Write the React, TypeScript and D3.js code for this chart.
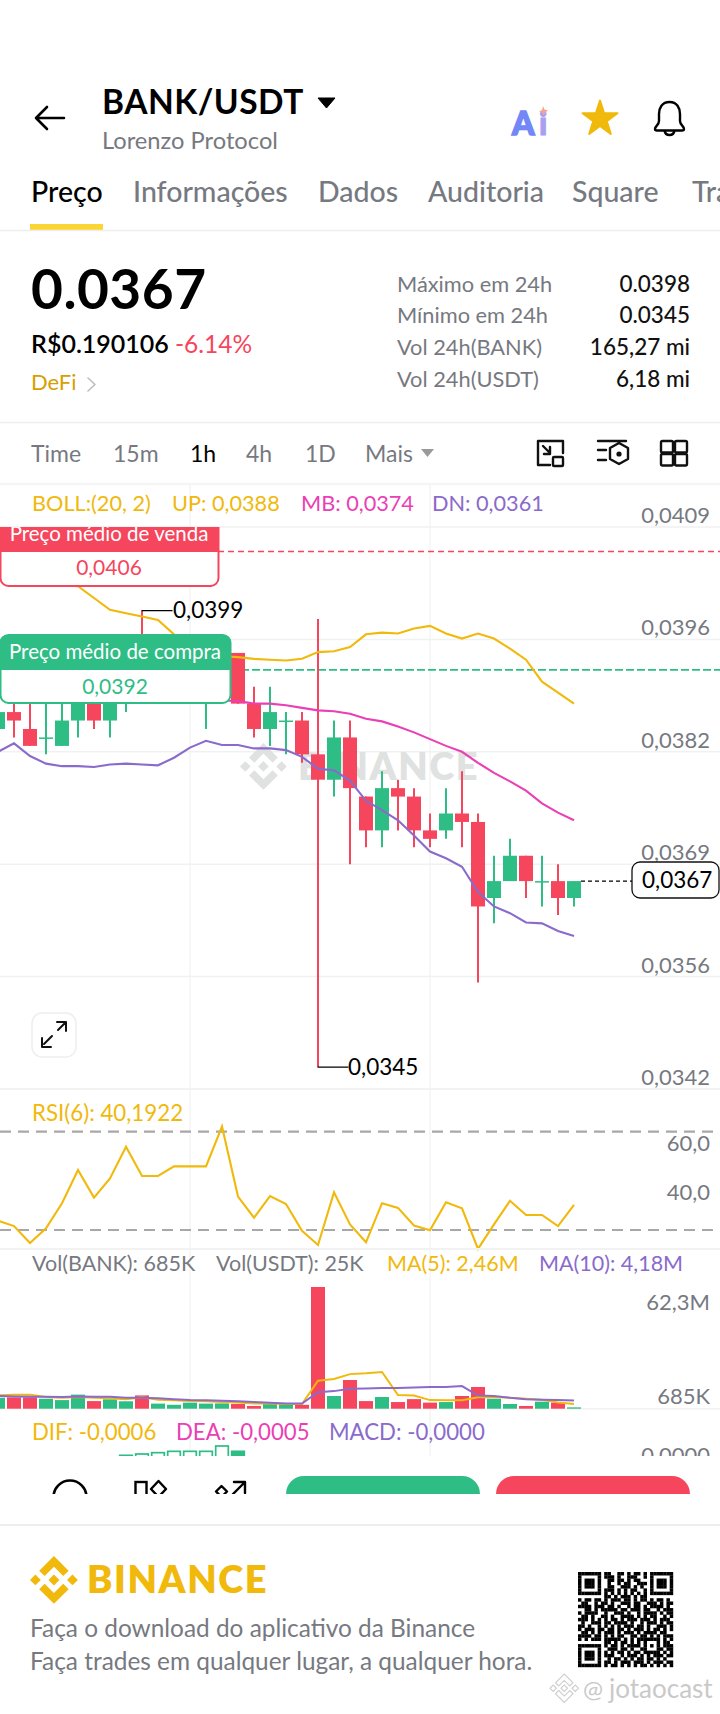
import React, { useEffect, useRef } from 'react';
import * as d3 from 'd3';

const FONT = 'Lato, sans-serif';
const RED = '#f6465d';
const GREEN = '#2ebd85';
const YELLOW = '#f0b90b';
const PINK = '#ea3fb5';
const PURPLE = '#8a6bcb';
const GRAY = '#76797f';

// one entry per hourly candle, oldest first
const opens = [.0385, .0387, .0385, .0384, .0383, .0386, .0388, .0386, .0388, .0392, .0389, .0390, .0391, .0390, .0392, .0394, .0388, .0385, .0386, .0386, .0382, .0379, .0384, .0377, .0373, .0378, .0377, .0373, .0373, .0375, .0374, .0365, .0367, .0370, .0367, .0367, .0365];
const closes = [.0387, .0386, .0383, .0384, .0386, .0388, .0386, .0388, .0392, .0389, .0390, .0391, .0392, .0392, .0394, .0388, .0385, .0387, .0386, .0382, .0379, .0384, .0378, .0373, .0378, .0377, .0373, .0372, .0375, .0374, .0364, .0367, .0370, .0367, .0367, .0365, .0367];
const highs = [.0388, .0388, .0388, .0388, .0388, .0388, .0388, .0388, .0392, .0399, .0391, .0392, .0393, .0393, .0395, .0394, .0390, .0390, .0387, .0387, .0398, .0386, .0386, .0377, .0380, .0379, .0378, .0375, .0378, .0380, .0375, .0370, .0372, .0370, .0370, .0369, .0367];
const lows = [.0384, .0384, .0383, .0382, .0383, .0384, .0385, .0384, .0387, .0388, .0389, .0389, .0390, .0385, .0391, .0388, .0384, .0383, .0382, .0381, .0345, .0377, .0369, .0371, .0371, .0373, .0371, .0371, .0372, .0371, .0355, .0362, .0367, .0365, .0364, .0363, .0364];
const bollUp = [.0406, .0405, .0404, .0403, .0402, .04019, .04005, .03991, .03987, .03983, .03979, .03962, .0395, .0394, .03936, .03935, .03933, .03932, .03931, .03933, .03941, .03942, .03947, .03962, .03964, .03963, .03969, .03972, .03963, .03957, .03963, .03957, .03945, .03932, .03906, .03893, .0388];
const bollMb = [.0391, .03905, .0390, .03895, .0390, .0390, .03895, .0389, .0389, .0389, .03895, .0389, .03885, .03885, .03884, .03883, .0388, .0388, .03878, .03875, .03872, .03871, .03868, .03862, .03859, .03853, .03846, .03838, .0383, .03823, .0381, .03798, .03788, .03777, .03762, .03751, .03742];
const bollDn = [.03823, .03833, .03818, .03809, .03806, .03806, .03805, .03808, .03809, .03808, .03807, .03816, .03828, .03836, .03831, .03831, .03827, .03827, .03825, .03817, .03803, .03801, .03789, .03765, .03754, .03742, .03724, .03705, .03697, .03687, .03657, .0364, .03632, .03621, .0362, .03611, .03605];
const rsi6 = [33.8, 31.6, 24.7, 30.7, 40.9, 54.4, 43.2, 51, 63.9, 52, 52, 55.9, 55.9, 55.9, 72.1, 43.6, 35, 43.8, 40.6, 29.7, 23.9, 45.3, 32.3, 25, 40.9, 39, 31.8, 29.9, 41.3, 38.8, 22.3, 32.3, 41.9, 36.1, 36.1, 31.6, 40.19];
const volumes = [5.6, 5.8, 5.8, 5.1, 4.4, 7.2, 3.9, 4.8, 3.8, 6.8, 2.6, 2, 3.1, 2.6, 2.7, 2.4, 1.4, 2.4, 2.4, 2, 62.3, 6.5, 14.7, 3.9, 6, 3.4, 4.9, 3.1, 3.4, 6.5, 11.1, 5.1, 2.4, 1.4, 3.6, 3.1, .685];
const volMa5 = [6.8, 7.2, 7.2, 6, 5.6, 6, 5.6, 5.3, 4.9, 5.8, 4.6, 4.3, 3.9, 3.8, 3.4, 3.2, 2.7, 2.6, 2.4, 2.4, 14.3, 15.2, 17.7, 18.1, 18.8, 7, 6.7, 4.4, 4.3, 4.3, 5.8, 6, 5.6, 5.1, 4.6, 3.2, 2.46];
const volMa10 = [6.5, 6.3, 6.1, 6.1, 6, 6.3, 6.1, 6.1, 5.6, 5.6, 5.3, 4.8, 4.4, 4.3, 4.1, 3.8, 3.4, 3.1, 2.7, 2.6, 8.4, 9, 10.2, 10.4, 10.6, 10.6, 10.9, 11.1, 11.1, 11.6, 6.7, 6.5, 5.6, 4.9, 4.6, 4.4, 4.18];
const macdIdx = [8, 9, 10, 11, 12, 13, 14, 15];
const macdHist = [.000125, .00015, .000175, .0002, .0002, .0002, .0003, .0002];

const priceTicks = [.04089, .03956, .03823, .0369, .03557, .03424];
const rsiTicks = [60, 40];
const tabs = ['Preço', 'Informações', 'Dados', 'Auditoria', 'Square', 'Trading'];
const tabX = [31, 133, 318, 428, 572, 692];
const periods = ['Time', '15m', '1h', '4h', '1D', 'Mais'];
const periodX = [31, 113, 190, 246, 305, 365];
const statNames = ['Máximo em 24h', 'Mínimo em 24h', 'Vol 24h(BANK)', 'Vol 24h(USDT)'];
const statValues = ['0.0398', '0.0345', '165,27 mi', '6,18 mi'];

const qrRows = [
    '#######.##..##.#.##.#.#######',
    '#.....#.###.#..###..#.#.....#',
    '#.###.#..##.##.#.##...#.###.#',
    '#.###.#..#..#.##..###.#.###.#',
    '#.###.#..##..###.#.#..#.###.#',
    '#.....#.###.#.#.##..#.#.....#',
    '#######.#.#.#.#.#.#.#.#######',
    '........##.#.###.#.##........',
    '#.##.##.#.###.##.#.##.#.##.#.',
    '.##..#.##.#..###.##..###.#.##',
    '####.###.##.#..#.##.#.####.#.',
    '..##.#.#####.##.###.##..#.###',
    '#.####..#..###.#..#.####.#.##',
    '.##.#..##.#..####.#.#.##..#.#',
    '###.#.#.#.##.#.###.###.#.###.',
    '.#..###.##.####.#..#.###.#.##',
    '##.#..#.#.#.#.###.##.#..###.#',
    '#.###.##.##.##.#.###.#.##.#.#',
    '.##.#.#.###.#.###.#.####.##..',
    '####.##.#.#.##..##.##.#.#.###',
    '#.#.###.#####.#.#.#######.#.#',
    '........##.#.##.#.#.#...#.##.',
    '#######.#.##.#.####.#.#.#.###',
    '#.....#..###.##.#..##...##.##',
    '#.###.#.#.#.##.#.##.#####.#.#',
    '#.###.#.###..#.###.#.#.###.##',
    '#.###.#..#.##.#.#.##.##.#.#..',
    '#.....#.##.#.###.###.#.###.##',
    '#######.#.##.#.#.#.##.#.#.#.#',
];

const LOGO = 'M38.73 53.2l24.59-24.58 24.6 24.6 14.3-14.31L63.32 0 24.43 38.9zM0 63.31l14.3-14.31 14.31 14.31-14.31 14.3zM38.73 73.41l24.59 24.59 24.6-24.6 14.31 14.29-38.9 38.91-38.91-38.88zM97.99 63.31l14.3-14.31 14.31 14.31-14.31 14.3zM77.83 63.3L63.32 48.78 52.59 59.51l-1.24 1.23-2.54 2.54 14.51 14.5 14.51-14.47z';

export default function App() {
    const svgRef = useRef<SVGSVGElement>(null);

    useEffect(() => {
        if (!svgRef.current) return;
        const svg = d3.select(svgRef.current);
        svg.selectAll('*').remove();

        const defs = svg.append('defs');
        defs.append('clipPath').attr('id', 'pageClip').append('rect').attr('width', 720).attr('height', 1494);
        defs.append('clipPath').attr('id', 'macdClip').append('rect').attr('y', 1430).attr('width', 720).attr('height', 26);
        defs.append('clipPath').attr('id', 'chartClip').append('rect').attr('y', 527).attr('width', 720).attr('height', 562);

        const text = (g: any, x: number, y: number, s: string, size: number, color: string, weight = 400, anchor = 'start') =>
            g.append('text').attr('x', x).attr('y', y).attr('fill', color)
                .attr('font-family', FONT).attr('font-size', size).attr('font-weight', weight)
                .attr('text-anchor', anchor).text(s);
        const hline = (g: any, x1: number, x2: number, y: number, color: string, w = 1.5) =>
            g.append('line').attr('x1', x1).attr('x2', x2).attr('y1', y).attr('y2', y).attr('stroke', color).attr('stroke-width', w);
        const icon = (g: any, d: string, color = '#000', w = 2.5) =>
            g.append('path').attr('d', d).attr('fill', 'none').attr('stroke', color).attr('stroke-width', w)
                .attr('stroke-linecap', 'round').attr('stroke-linejoin', 'round');

        // scales
        const x = d3.scaleLinear().domain([0, 36]).range([-2, 574]);
        const y = d3.scaleLinear().domain([.03424, .04089]).range([1089, 527]);
        const yRsi = d3.scaleLinear().domain([30, 70]).range([1230, 1131.7]);
        const yVol = d3.scaleLinear().domain([0, 62.3]).range([1408.7, 1287]);
        const yMacd = d3.scaleLinear().domain([0, .0003]).range([1462, 1446]);

        const root = svg.append('g').attr('clip-path', 'url(#pageClip)');

        // header
        icon(root, 'M64 118H36M47 107L36 118L47 129', '#000', 2.6);
        text(root, 102, 114, 'BANK/USDT', 33.5, '#000', 700).attr('letter-spacing', 0.5);
        root.append('path').attr('d', 'M318 98H335L326.5 108Z').attr('fill', '#000').attr('stroke', '#000').attr('stroke-linejoin', 'round');
        text(root, 102, 149, 'Lorenzo Protocol', 23.7, GRAY);
        text(root, 512, 135, 'A', 32, '#7387f7', 900).attr('stroke', '#7387f7').attr('stroke-width', 1.5);
        text(root, 539, 135, 'i', 32, '#a9a0f2', 900).attr('stroke', '#a9a0f2').attr('stroke-width', 1);
        root.append('path').attr('d', 'M543 106l1.5 3.5 3.5 1-3 2-1 3-2-3-3-1 3-1.5z').attr('fill', '#f3a58f');
        root.append('path').attr('transform', 'translate(600,119)')
            .attr('d', d3.symbol(d3.symbolStar, 380)())
            .attr('fill', YELLOW).attr('stroke', YELLOW).attr('stroke-width', 2).attr('stroke-linejoin', 'round');
        icon(root, 'M669.5 102C662 102 659 108 659 114V121C659 125 655 126 655 129C655 130 656 130.5 657 130.5H682C683 130.5 684 130 684 129C684 126 680 125 680 121V114C680 108 677 102 669.5 102ZM664.5 130.5C665 134 667 135 669.5 135C672 135 674 134 674.5 130.5', '#000', 2.4);

        tabs.forEach((t, i) => text(root, tabX[i], 202, t, 28.5, i === 0 ? '#000' : GRAY, 500));
        root.append('rect').attr('x', 30).attr('y', 224).attr('width', 73).attr('height', 6).attr('fill', '#fcd535');
        hline(root, 0, 720, 230.5, '#eeeeee');

        // price block
        text(root, 31, 309, '0.0367', 55, '#000', 700).attr('letter-spacing', 0.5);
        text(root, 31, 353, 'R$0.190106', 25, '#000', 600);
        text(root, 175, 353, '-6.14%', 24.5, RED);
        text(root, 31, 390, 'DeFi', 22, '#d6a000');
        icon(root, 'M88 378L95 384.5L88 391', '#bdbdbd', 1.6);
        const statY = [291.7, 323.3, 355.3, 387.3];
        statNames.forEach((s, i) => {
            text(root, 397, statY[i], s, 21.8, GRAY);
            text(root, 690, statY[i], statValues[i], 22.5, '#111', 500, 'end');
        });
        hline(root, 0, 720, 422.5, '#eeeeee');

        // period row
        periods.forEach((p, i) => text(root, periodX[i], 462, p, 23, i === 2 ? '#000' : GRAY));
        root.append('path').attr('d', 'M421 449H434L427.5 457Z').attr('fill', '#9a9a9a');
        icon(root, 'M563 453V441H538V465H550M543 446L550 453M550 447V454H544', '#111', 2.4);
        root.append('rect').attr('x', 553).attr('y', 457).attr('width', 10).attr('height', 9).attr('rx', 1).attr('fill', 'none').attr('stroke', '#111').attr('stroke-width', 2.4);
        icon(root, 'M598 441H626M598 450H606M598 460H606M619 443L628 448V459L619 464L610 459V448Z', '#111', 2.4);
        root.append('circle').attr('cx', 619).attr('cy', 454).attr('r', 2.6).attr('fill', '#111');
        [[661, 441], [675, 441], [661, 454], [675, 454]].forEach(([a, b]) =>
            root.append('rect').attr('x', a).attr('y', b).attr('width', 12).attr('height', 11.5).attr('rx', 1.5).attr('fill', 'none').attr('stroke', '#111').attr('stroke-width', 2.4));
        hline(root, 0, 720, 484, '#f5f5f5', 2.5);

        // chart grid
        [190, 430].forEach(v => root.append('line').attr('x1', v).attr('x2', v).attr('y1', 485).attr('y2', 1456).attr('stroke', '#f5f5f5').attr('stroke-width', 1.5));
        const ticks = root.append('g');
        priceTicks.forEach(t => {
            hline(ticks, 0, 720, y(t), '#f0f1f1', 1.5);
            text(ticks, 710, y(t) - 4, d3.format('.4f')(t).replace('.', ','), 22, GRAY, 400, 'end');
        });

        // BINANCE watermark
        root.append('path').attr('d', LOGO).attr('fill', '#dfe2e0').attr('transform', 'translate(240,743) scale(0.37)');
        text(root, 298, 780, 'BINANCE', 38, '#dfe2e0', 800).attr('letter-spacing', 1.6);

        // legends
        const legend = (g: any, yy: number, size: number, items: [number, string, string][]) => items.forEach(([xx, s, c]) => text(g, xx, yy, s, size, c));
        legend(root, 511, 21.7, [[32, 'BOLL:(20, 2)', YELLOW], [172, 'UP: 0,0388', YELLOW], [301, 'MB: 0,0374', PINK], [432, 'DN: 0,0361', PURPLE]]);

        // average price lines
        hline(root, 218, 720, y(.0406), RED, 1.6).attr('stroke-dasharray', '6 4');
        hline(root, 230, 720, y(.0392), GREEN, 1.8).attr('stroke-dasharray', '8 3');

        // candles
        const candles = root.append('g').attr('clip-path', 'url(#chartClip)');
        const n = d3.range(37);
        const col = (i: number) => (closes[i] >= opens[i] ? GREEN : RED);
        candles.selectAll('line.wick').data(n).join('line').attr('class', 'wick')
            .attr('x1', i => x(i)).attr('x2', i => x(i))
            .attr('y1', i => y(highs[i])).attr('y2', i => y(lows[i]))
            .attr('stroke', col).attr('stroke-width', 2);
        candles.selectAll('rect').data(n).join('rect')
            .attr('x', i => x(i) - 7).attr('width', 14)
            .attr('y', i => Math.min(y(opens[i]), y(closes[i])))
            .attr('height', i => Math.max(1.5, Math.abs(y(opens[i]) - y(closes[i]))))
            .attr('fill', col);

        // bollinger bands
        const bandLine = d3.line<number>().x((_, i) => x(i)).y(d => y(d));
        const bands: [number[], string][] = [[bollUp, YELLOW], [bollMb, PINK], [bollDn, PURPLE]];
        bands.forEach(([vals, c]) => root.append('path').attr('d', bandLine(vals)).attr('fill', 'none').attr('stroke', c).attr('stroke-width', 2.1).attr('clip-path', 'url(#chartClip)'));

        // high / low callouts
        icon(root, `M${x(9)} ${y(.0399)}H172`, '#000', 1.3);
        text(root, 173, y(.0399) + 7.5, '0,0399', 22.5, '#000');
        icon(root, `M${x(20)} ${y(.0345)}H348`, '#000', 1.3);
        text(root, 348, y(.0345) + 7.5, '0,0345', 22.5, '#000');

        // average price labels
        const tag = (title: string, value: string, color: string, w: number, top: number, mid: number, bottom: number, vy: number, ty: number) => {
            const g = root.append('g').attr('clip-path', 'url(#chartClip)');
            g.append('rect').attr('x', 0.5).attr('y', top).attr('width', w).attr('height', bottom - top).attr('rx', 8).attr('fill', '#fff').attr('stroke', color).attr('stroke-width', 2);
            g.append('path').attr('d', `M0 ${mid}V${top + 8}Q0 ${top} 8 ${top}H${w - 7}Q${w + 1} ${top} ${w + 1} ${top + 8}V${mid}Z`).attr('fill', color);
            text(g, w / 2, ty, title, 20.5, '#fff', 400, 'middle');
            text(g, w / 2, vy, value, 21, color, 400, 'middle');
        };
        tag('Preço médio de venda', '0,0406', RED, 218, 518, 552, 586, 575, 541);
        tag('Preço médio de compra', '0,0392', GREEN, 230, 635, 670, 703, 694, 659);

        // last price
        hline(root, 581, 632, y(.0367), '#000', 1.2).attr('stroke-dasharray', '4 3');
        root.append('rect').attr('x', 632).attr('y', 862).attr('width', 87).attr('height', 36).attr('rx', 8).attr('fill', '#fff').attr('stroke', '#111').attr('stroke-width', 1.3);
        text(root, 642, 888, '0,0367', 22.5, '#000');

        // expand button
        root.append('rect').attr('x', 32).attr('y', 1013).attr('width', 44).attr('height', 44).attr('rx', 10).attr('fill', '#fff').attr('stroke', '#eeeeee').attr('stroke-width', 1.5);
        icon(root, 'M44 1044L52 1036M42 1038V1047H51M58 1030L65 1023M57 1022H66V1031', '#111', 2);

        hline(root, 0, 720, 1089, '#f2f2f2', 2);

        // RSI
        text(root, 32, 1121, 'RSI(6): 40,1922', 22.3, YELLOW);
        [70, 30].forEach(v => hline(root, 0, 720, yRsi(v), '#a8a8a8', 2.2).attr('stroke-dasharray', '11 7'));
        rsiTicks.forEach(v => text(root, 710, yRsi(v) - 5.5, d3.format('.1f')(v).replace('.', ','), 22, GRAY, 400, 'end'));
        const rsiLine = d3.line<number>().x((_, i) => x(i)).y(d => yRsi(d));
        root.append('path').attr('d', rsiLine(rsi6)).attr('fill', 'none').attr('stroke', YELLOW).attr('stroke-width', 2.1);
        hline(root, 0, 720, 1249, '#f2f2f2', 2);

        // volume
        legend(root, 1271, 21.5, [[32, 'Vol(BANK): 685K', GRAY], [216, 'Vol(USDT): 25K', GRAY], [387, 'MA(5): 2,46M', YELLOW], [539, 'MA(10): 4,18M', PURPLE]]);
        text(root, 710, 1310, '62,3M', 22, GRAY, 400, 'end');
        text(root, 710, 1404, '685K', 22, GRAY, 400, 'end');
        hline(root, 0, 720, yVol(0), '#f2f2f2', 1.5);
        root.append('g').selectAll('rect').data(volumes).join('rect')
            .attr('x', (_, i) => x(i) - 7).attr('width', 14)
            .attr('y', d => yVol(d)).attr('height', d => yVol(0) - yVol(d))
            .attr('fill', (_, i) => col(i));
        const volLine = d3.line<number>().x((_, i) => x(i)).y(d => yVol(d));
        root.append('path').attr('d', volLine(volMa5)).attr('fill', 'none').attr('stroke', YELLOW).attr('stroke-width', 2);
        root.append('path').attr('d', volLine(volMa10)).attr('fill', 'none').attr('stroke', PURPLE).attr('stroke-width', 2);

        // MACD, cut by the bottom bar
        legend(root, 1440, 22.2, [[32, 'DIF: -0,0006', YELLOW], [176, 'DEA: -0,0005', PINK], [329, 'MACD: -0,0000', PURPLE]]);
        const macd = root.append('g').attr('clip-path', 'url(#macdClip)');
        text(macd, 710, 1463, '0,0000', 22, GRAY, 400, 'end');
        macd.selectAll('rect').data(macdHist).join('rect')
            .attr('x', (_, i) => x(macdIdx[i]) - 6.3).attr('width', 12.6)
            .attr('y', d => yMacd(d)).attr('height', d => yMacd(0) - yMacd(d))
            .attr('fill', (_, i) => (i === macdHist.length - 1 ? GREEN : '#fff'))
            .attr('stroke', GREEN).attr('stroke-width', 1.7);

        // bottom bar, cut off by the share frame
        root.append('rect').attr('x', 0).attr('y', 1456).attr('width', 720).attr('height', 40).attr('fill', '#fff');
        root.append('circle').attr('cx', 70).attr('cy', 1497).attr('r', 16.5).attr('fill', 'none').attr('stroke', '#000').attr('stroke-width', 2.6);
        root.append('rect').attr('x', 135.5).attr('y', 1482).attr('width', 11).attr('height', 14).attr('fill', 'none').attr('stroke', '#000').attr('stroke-width', 2.4);
        icon(root, 'M158.5 1481L166 1489L158.5 1497L151 1489Z', '#000', 2.4);
        icon(root, 'M221.5 1486L227 1491.5L221.5 1497L216 1491.5ZM233 1494L245 1482M234 1482H245V1493', '#000', 2.4);
        root.append('rect').attr('x', 286).attr('y', 1476).attr('width', 194).attr('height', 40).attr('rx', 18).attr('fill', GREEN);
        root.append('rect').attr('x', 496).attr('y', 1476).attr('width', 194).attr('height', 40).attr('rx', 18).attr('fill', RED);

        // footer
        const foot = svg.append('g');
        hline(foot, 0, 720, 1525, '#eeeeee', 2);
        foot.append('path').attr('d', LOGO).attr('fill', YELLOW).attr('transform', 'translate(30,1556) scale(0.378)');
        text(foot, 87, 1593, 'BINANCE', 38, YELLOW, 800).attr('letter-spacing', 1.6);
        text(foot, 30, 1637, 'Faça o download do aplicativo da Binance', 24.4, GRAY);
        text(foot, 30, 1670, 'Faça trades em qualquer lugar, a qualquer hora.', 24.4, GRAY);
        const cell = 95 / 29;
        qrRows.forEach((row, r) => row.split('').forEach((c, k) => {
            if (c === '#') foot.append('rect').attr('x', 578 + k * cell).attr('y', 1572 + r * cell).attr('width', cell + .2).attr('height', cell + .2).attr('fill', '#000');
        }));

        // share watermark
        foot.append('path').attr('d', LOGO).attr('fill', 'none').attr('stroke', '#cfcfcf').attr('stroke-width', 5).attr('transform', 'translate(550,1674) scale(0.225)');
        text(foot, 583, 1698, '@', 24, '#c9c9c9');
        text(foot, 609, 1698, 'jotaocast', 26, '#c9c9c9');
    }, []);

    return (
        <svg ref={svgRef} width={720} height={1714} style={{ position: 'absolute', left: 0, top: 0, background: '#fff' }} />
    );
}
